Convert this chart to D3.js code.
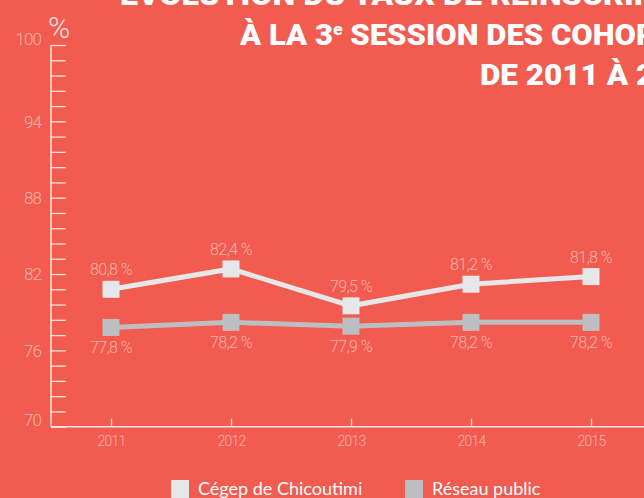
<!DOCTYPE html>
<html>
<head>
<meta charset="utf-8">
<script src="https://cdn.jsdelivr.net/npm/d3@7"></script>
<style>
  body { margin: 0; background: #f15b50; overflow: hidden; }
  svg { display: block; }
</style>
</head>
<body>
<script>
// chart data
var years = [2011, 2012, 2013, 2014, 2015];
var cegep = [80.8, 82.4, 79.5, 81.2, 81.8];
var reseau = [77.8, 78.2, 77.9, 78.2, 78.2];
var yLabels = [70, 76, 82, 88, 94, 100];
var seriesNames = ["Cégep de Chicoutimi", "Réseau public"];
var titleLines = ["ÉVOLUTION DU TAUX DE RÉINSCRIPTION", "À LA 3e SESSION DES COHORTES", "DE 2011 À 2015"];

var svgWidth = 644;
var svgHeight = 498;

var bg = "#f15b50";
var pale = "#fbb4ac";
var colCegep = "#e6e7e8";
var colReseau = "#bcbec0";

var svg = d3.select("body")
  .append("svg")
  .attr("width", svgWidth)
  .attr("height", svgHeight);

svg.append("rect").attr("width", svgWidth).attr("height", svgHeight).attr("fill", bg);

var x = d3.scaleLinear().domain([2011, 2015]).range([111, 591]);
var y = d3.scaleLinear().domain([70, 100]).range([426.7, 45]);
var axisX = 51;

// title (runs off the right edge)
var titleX = [120, 240, 480];
var titleY = [5, 45, 85];
var titleW = [610, 472, 229];
titleLines.forEach(function(t, i) {
  var txt = svg.append("text")
    .attr("x", titleX[i])
    .attr("y", titleY[i])
    .attr("fill", "#ffffff")
    .attr("font-family", "Roboto")
    .attr("font-weight", 900)
    .attr("font-size", 30)
    .attr("textLength", titleW[i])
    .attr("lengthAdjust", "spacingAndGlyphs");
  if (t.indexOf("3e") >= 0) {
    var parts = t.split("3e");
    txt.append("tspan").text(parts[0] + "3");
    txt.append("tspan").attr("dy", -10).attr("font-size", 17).text("e");
    txt.append("tspan").attr("dy", 10).text(parts[1]);
  } else {
    txt.text(t);
  }
});

// y axis: minor ticks pointing right, line on the left
var minorTicks = d3.range(0, 26).map(function(i) { return 70 + i * 1.2; });
var yAxis = svg.append("g")
  .attr("transform", "translate(" + axisX + ",0)")
  .call(d3.axisRight(y).tickValues(minorTicks).tickSize(15).tickFormat(""));
yAxis.select(".domain").remove();
yAxis.selectAll(".tick line").attr("stroke", "#fde3df").attr("stroke-width", 1.3);

svg.append("line")
  .attr("x1", axisX).attr("x2", axisX)
  .attr("y1", y(100)).attr("y2", y(70))
  .attr("stroke", "#fde3df").attr("stroke-width", 1.5);

var yLab = svg.append("g")
  .attr("transform", "translate(" + axisX + ",0)")
  .call(d3.axisLeft(y).tickValues(yLabels).tickSize(0).tickPadding(10));
yLab.select(".domain").remove();
yLab.selectAll("text")
  .attr("fill", pale)
  .attr("font-family", "Roboto")
  .attr("font-weight", 300)
  .attr("font-size", 17)
  .attr("letter-spacing", -0.9)
  .attr("dy", function(d) { return (d == 100 || d == 70) ? "-0.05em" : "0.34em"; });

svg.append("text")
  .attr("x", 48)
  .attr("y", 38)
  .attr("fill", "#fde3df")
  .attr("font-family", "Roboto")
  .attr("font-weight", 300)
  .attr("font-size", 30)
  .text("%");

// x axis
svg.append("line")
  .attr("x1", axisX).attr("x2", svgWidth)
  .attr("y1", y(70)).attr("y2", y(70))
  .attr("stroke", "#fde3df").attr("stroke-width", 1.5);

var xAxis = svg.append("g")
  .attr("transform", "translate(0," + y(70) + ")")
  .call(d3.axisBottom(x).tickValues(years).tickSizeInner(-8).tickSizeOuter(0)
    .tickPadding(9).tickFormat(d3.format("d")));
xAxis.select(".domain").remove();
xAxis.selectAll(".tick line").attr("stroke", "#fde3df").attr("stroke-width", 1.3);
xAxis.selectAll("text")
  .attr("fill", pale)
  .attr("font-family", "Roboto")
  .attr("font-weight", 300)
  .attr("font-size", 14)
  .attr("letter-spacing", -0.7);

// lines and markers
var fmt = function(v) { return d3.format(".1f")(v).replace(".", ",") + " %"; };

function drawSeries(values, color, labelOffset) {
  var pts = values.map(function(v, i) { return { year: years[i], v: v }; });
  var line = d3.line()
    .x(function(d) { return x(d.year); })
    .y(function(d) { return y(d.v); });

  svg.append("path")
    .datum(pts)
    .attr("d", line)
    .attr("fill", "none")
    .attr("stroke", color)
    .attr("stroke-width", 5);

  svg.selectAll(null)
    .data(pts)
    .enter()
    .append("rect")
    .attr("x", function(d) { return x(d.year) - 8.5; })
    .attr("y", function(d) { return y(d.v) - 8.5; })
    .attr("width", 17)
    .attr("height", 17)
    .attr("fill", color);

  svg.selectAll(null)
    .data(pts)
    .enter()
    .append("text")
    .attr("x", function(d) { return x(d.year); })
    .attr("y", function(d) { return y(d.v) + labelOffset; })
    .attr("text-anchor", "middle")
    .attr("fill", pale)
    .attr("font-family", "Roboto")
    .attr("font-weight", 300)
    .attr("font-size", 16)
    .attr("letter-spacing", -0.6)
    .text(function(d) { return fmt(d.v); });
}

drawSeries(reseau, colReseau, 26);
drawSeries(cegep, colCegep, -14);

// legend
var legX = [171, 405];
var legColors = [colCegep, colReseau];
seriesNames.forEach(function(name, i) {
  svg.append("rect")
    .attr("x", legX[i])
    .attr("y", 480)
    .attr("width", 18)
    .attr("height", 18)
    .attr("fill", legColors[i]);
  svg.append("text")
    .attr("x", legX[i] + 27)
    .attr("y", 495)
    .attr("fill", "#ffffff")
    .attr("font-family", "Lato")
    .attr("font-size", 18)
    .text(name);
});
</script>
</body>
</html>
